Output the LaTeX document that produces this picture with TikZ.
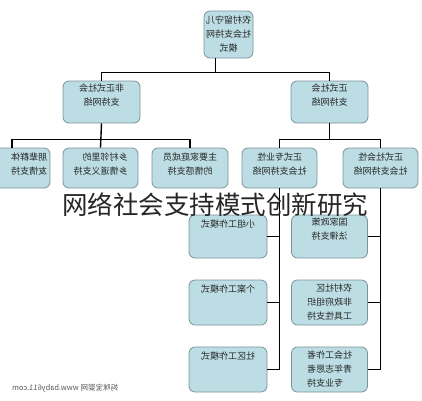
\documentclass[tikz,border=0pt]{standalone}
\usepackage{fontspec}
\usepackage{graphicx}
\newfontfamily\cjk{Noto Sans CJK SC}
\definecolor{boxfill}{RGB}{188,221,227}
\definecolor{boxline}{RGB}{122,146,152}
\definecolor{boxtext}{RGB}{40,40,40}
\newcommand{\flipped}[2][c]{\reflectbox{\begin{tabular}{@{}#1@{}}#2\end{tabular}}}

\begin{document}
\begin{tikzpicture}[x=1pt,y=-1pt,
		box/.style={draw=boxline,fill=boxfill,rounded corners=6pt,line width=0.8pt,inner sep=0pt,
			text=boxtext,font=\cjk\fontsize{9}{14}\selectfont},
		wire/.style={line width=1.4pt,black}]
		\useasboundingbox (0,0) rectangle (422,400);
		\clip (0,0) rectangle (422,400);
		\node[box,minimum width=49,minimum height=47] (root) at (228.5,34.5) {\flipped{农村留守儿\\社会支持网\\模式}};
		\node[box,minimum width=77,minimum height=42] (informal) at (101.5,102) {\flipped{非正式社会\\支持网络\\[12pt]}};
		\node[box,minimum width=77,minimum height=42] (formal) at (329.5,102) {\flipped{正式社会\\支持网络\\[12pt]}};
		\node[box,minimum width=76,minimum height=40,text width=70,align=right] (peer) at (12,168) {\flipped{朋辈群体\\友情支持\\[6pt]}};
		\node[box,minimum width=75,minimum height=40] (village) at (100.5,168) {\flipped[l]{乡村邻里的\\乡情道义支持\\[6pt]}};
		\node[box,minimum width=76,minimum height=40] (family) at (190,168) {\flipped{主要家庭成员\\的情感支持\\[6pt]}};
		\node[box,minimum width=75,minimum height=40] (pro) at (279.5,168) {\flipped{正式专业性\\社会支持网络\\[6pt]}};
		\node[box,minimum width=75,minimum height=40] (social) at (380.5,168) {\flipped{正式社会性\\社会支持网络\\[6pt]}};
		\node[box,minimum width=78,text height=12.5pt,text depth=30.5pt] (group) at (228,236.5) {\reflectbox{小组工作模式}};
		\node[box,minimum width=78,text height=12.5pt,text depth=32.5pt] (casework) at (228,302.5) {\reflectbox{个案工作模式}};
		\node[box,minimum width=78,text height=12.5pt,text depth=32.5pt] (community) at (228,369.5) {\reflectbox{社区工作模式}};
		\node[box,minimum width=76,minimum height=43] (policy) at (329.5,236.5) {\flipped[l]{国家政策\\法律支持\\[13pt]}};
		\node[box,minimum width=76,minimum height=45] (ngo) at (329.5,302.5) {\flipped[l]{农村社区\\非政府组织\\工具性支持}};
		\node[box,minimum width=76,minimum height=45] (worker) at (329.5,369.5) {\flipped[r]{社会工作者\\青年志愿者\\专业支持}};
		\coordinate (topjoin) at (215.5,73);
		\draw[wire] (root.south -| topjoin) -- (topjoin);
		\draw[wire] (informal.north) -- ++(0,-8) -| (formal.north);
		\draw[wire] (peer.north) -- ++(0,-8) -| (family.north);
		\draw[wire] (informal.south) -- (village.north);
		\draw[wire] (pro.north) -- ++(0,-8) -| (social.north);
		\draw[wire] (formal.south) -- ++(0,17);
		\draw[wire] (pro.south) |- (community.east);
		\draw[wire] (group.east) -- (group.east -| pro.south);
		\draw[wire] (casework.east) -- (casework.east -| pro.south);
		\draw[wire] (social.south) |- (worker.east);
		\draw[wire] (policy.east) -- (policy.east -| social.south);
		\draw[wire] (ngo.east) -- (ngo.east -| social.south);
		\node[font=\cjk\fontsize{25.5}{26}\selectfont,text=black!85,inner sep=0pt] (title) at (215,205) {网络社会支持模式创新研究};
		\node[font=\cjk\fontsize{7.5}{8}\selectfont,text=black!65,inner sep=0pt,anchor=west] (site) at (12,388) {\reflectbox{妈咪宝婴网 www.baby611.com}};
\end{tikzpicture}
\end{document}
